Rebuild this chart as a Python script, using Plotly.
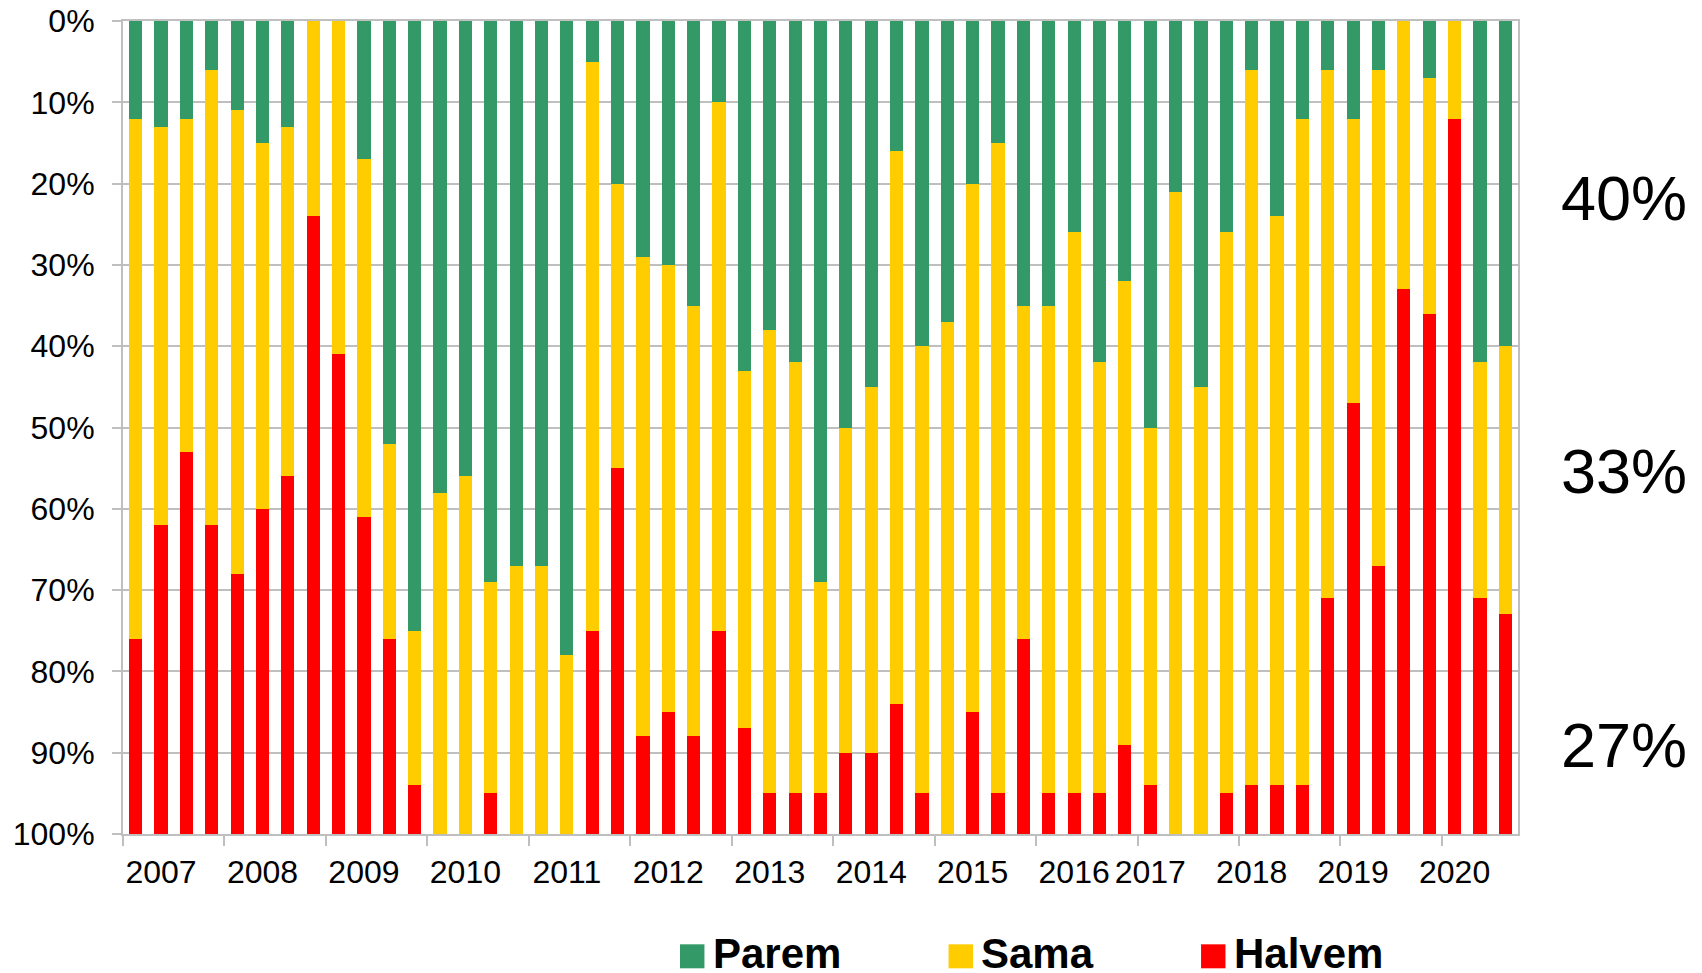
import plotly.graph_objects as go

# Period labels (one per bar; year shown only where the original axis shows it)
period_labels = [
    "", "2007", "", "", "", "2008", "", "", "", "2009", "", "", "", "2010", "", "",
    "", "2011", "", "", "", "2012", "", "", "", "2013", "", "", "", "2014", "", "",
    "", "2015", "", "", "", "2016", "", "", "2017", "", "", "", "2018", "", "", "",
    "2019", "", "", "", "2020", "", "",
]

# Shares in % (Parem = better, Sama = same, Halvem = worse)
parem = [12, 13, 12, 6, 11, 15, 13, 0, 0, 17, 52, 75, 58, 56, 69, 67,
         67, 78, 5, 20, 29, 30, 35, 10, 43, 38, 42, 69, 50, 45, 16, 40,
         37, 20, 15, 35, 35, 26, 42, 32, 50, 21, 45, 26, 6, 24, 12, 6,
         12, 6, 0, 7, 0, 42, 40]
sama = [64, 49, 41, 56, 57, 45, 43, 24, 41, 44, 24, 19, 42, 44, 26, 33,
        33, 22, 70, 35, 59, 55, 53, 65, 44, 57, 53, 26, 40, 45, 68, 55,
        63, 65, 80, 41, 60, 69, 53, 57, 44, 79, 55, 69, 88, 70, 82, 65,
        35, 61, 33, 29, 12, 29, 33]
halvem = [24, 38, 47, 38, 32, 40, 44, 76, 59, 39, 24, 6, 0, 0, 5, 0,
          0, 0, 25, 45, 12, 15, 12, 25, 13, 5, 5, 5, 10, 10, 16, 5,
          0, 15, 5, 24, 5, 5, 5, 11, 6, 0, 0, 5, 6, 6, 6, 29,
          53, 33, 67, 64, 88, 29, 27]

series_names = ["Parem", "Sama", "Halvem"]
series_colors = ["#339966", "#FFCC00", "#FF0000"]
y_ticks = list(range(0, 101, 10))

x = list(range(len(period_labels)))
tickvals = [i for i, lab in enumerate(period_labels) if lab]
ticktext = [lab for lab in period_labels if lab]
boundary_ticks = [i - 0.5 for i in range(0, len(period_labels), 4)]

FONT = "Arial, Liberation Sans, sans-serif"
GRID = "#BFBFBF"

fig = go.Figure()
for name, vals, col in zip(series_names, [parem, sama, halvem], series_colors):
    fig.add_trace(go.Bar(x=x, y=vals, name=name, showlegend=False,
                         marker=dict(color=col, line=dict(width=0))))

# Labels to the right of the last bar (last period's shares)
last_vals = [parem[-1], sama[-1], halvem[-1]]
label_y = [21.8, 55.3, 89.0]
for v, yy in zip(last_vals, label_y):
    fig.add_annotation(x=1.076, y=yy, xref="paper", yref="y", text=f"{v}%",
                       showarrow=False, xanchor="center", yanchor="middle",
                       font=dict(family=FONT, size=63, color="black"))

# Legend drawn below the plot (square key + bold name)
legend_key_x = [0.3993, 0.5918, 0.7728]
key_w = 0.0175
for name, col, kx in zip(series_names, series_colors, legend_key_x):
    fig.add_shape(type="rect", xref="paper", yref="paper",
                  x0=kx, x1=kx + key_w, y0=-0.1652, y1=-0.1357,
                  fillcolor=col, line=dict(width=0))
    fig.add_annotation(x=kx + key_w + 0.0045, y=-0.147, xref="paper", yref="paper",
                       text=f"<b>{name}</b>", showarrow=False,
                       xanchor="left", yanchor="middle",
                       font=dict(family=FONT, size=42, color="black"))

fig.update_layout(
    width=1702, height=973,
    barmode="stack", bargap=0.48,
    plot_bgcolor="white", paper_bgcolor="white",
    margin=dict(l=115, r=192, t=13, b=147, autoexpand=False),
    font=dict(family=FONT, size=32, color="black"),
    showlegend=False,
)
fig.update_xaxes(
    range=[-0.5, len(period_labels) - 0.5],
    tickmode="array", tickvals=tickvals, ticktext=ticktext, ticks="",
    ticklabelstandoff=9, ticklabeloverflow="allow",
    showline=True, linecolor=GRID, linewidth=2, mirror=True,
    showgrid=False, zeroline=False,
    minor=dict(tickmode="array", tickvals=boundary_ticks, ticks="outside", ticklen=10,
               tickwidth=2, tickcolor=GRID, showgrid=False),
    tickfont=dict(family=FONT, size=32, color="black"),
)
fig.update_yaxes(
    range=[100, 0], tickmode="array", tickvals=y_ticks,
    ticktext=[f"{v}%" for v in y_ticks],
    showgrid=True, gridcolor=GRID, gridwidth=2,
    ticks="outside", ticklen=9, tickcolor=GRID, tickwidth=2,
    ticklabelstandoff=11, ticklabeloverflow="allow",
    showline=True, linecolor=GRID, linewidth=2, mirror=True, zeroline=False,
    tickfont=dict(family=FONT, size=32, color="black"),
)

fig.write_html("out.html")
